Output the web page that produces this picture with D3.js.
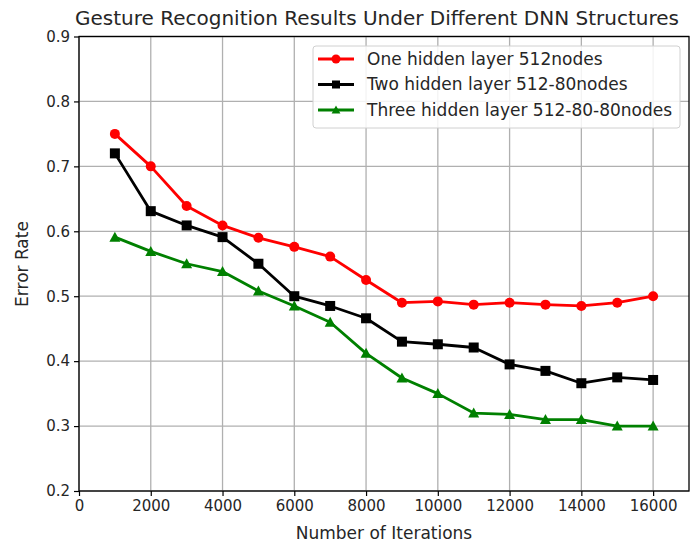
<!DOCTYPE html>
<html>
<head>
<meta charset="utf-8">
<script src="https://cdn.jsdelivr.net/npm/d3@7"></script>
<style>
  html, body { margin: 0; padding: 0; background: #fff; }
  svg { display: block; font-family: "DejaVu Sans", sans-serif; }
</style>
</head>
<body>
<svg id="chart" width="697" height="544"></svg>
<script>
// Iteration counts on the x axis
const iterations = [1000, 2000, 3000, 4000, 5000, 6000, 7000, 8000, 9000, 10000, 11000, 12000, 13000, 14000, 15000, 16000];

// Error rate per network structure
const oneLayer = [0.750, 0.700, 0.639, 0.609, 0.590, 0.576, 0.561, 0.525, 0.490, 0.492, 0.487, 0.490, 0.487, 0.485, 0.490, 0.500];
const twoLayer = [0.720, 0.631, 0.609, 0.591, 0.550, 0.500, 0.485, 0.466, 0.430, 0.426, 0.421, 0.395, 0.385, 0.366, 0.375, 0.371];
const threeLayer = [0.591, 0.569, 0.550, 0.538, 0.508, 0.485, 0.460, 0.412, 0.374, 0.350, 0.320, 0.318, 0.310, 0.310, 0.300, 0.300];

const seriesNames = ["One hidden layer 512nodes", "Two hidden layer 512-80nodes", "Three hidden layer 512-80-80nodes"];
const seriesColors = ["#ff0000", "#000000", "#008000"];
const seriesMarkers = ["circle", "square", "triangle"];

const xTicks = [0, 2000, 4000, 6000, 8000, 10000, 12000, 14000, 16000];
const yTicks = [0.2, 0.3, 0.4, 0.5, 0.6, 0.7, 0.8, 0.9];

const chartTitle = "Gesture Recognition Results Under Different DNN Structures";
const xLabel = "Number of Iterations";
const yLabel = "Error Rate";

const series = [oneLayer, twoLayer, threeLayer].map((vals, i) => ({
  name: seriesNames[i],
  color: seriesColors[i],
  marker: seriesMarkers[i],
  points: iterations.map((it, j) => ({ x: it, y: vals[j] }))
}));

const svg = d3.select("#chart");
const margin = { left: 79, right: 8, top: 36.5, bottom: 53 };
const W = 697, H = 544;

const x = d3.scaleLinear().domain([0, 17000]).range([margin.left, W - margin.right]);
const y = d3.scaleLinear().domain([0.2, 0.9]).range([H - margin.bottom, margin.top]);

// grid
const grid = svg.append("g");
grid.selectAll("line.vx").data(xTicks).join("line")
  .attr("x1", d => x(d)).attr("x2", d => x(d))
  .attr("y1", y(0.9)).attr("y2", y(0.2))
  .attr("stroke", "#b0b0b0").attr("stroke-width", 1.3);
grid.selectAll("line.hy").data(yTicks).join("line")
  .attr("y1", d => y(d)).attr("y2", d => y(d))
  .attr("x1", x(0)).attr("x2", x(17000))
  .attr("stroke", "#b0b0b0").attr("stroke-width", 1.3);

// axes
const xAxis = d3.axisBottom(x).tickValues(xTicks).tickFormat(d3.format("d")).tickSizeInner(5).tickSizeOuter(0).tickPadding(4);
const yAxis = d3.axisLeft(y).tickValues(yTicks).tickFormat(d3.format(".1f")).tickSizeInner(5).tickSizeOuter(0).tickPadding(4);

const gx = svg.append("g").attr("transform", `translate(0,${y(0.2)})`).call(xAxis);
const gy = svg.append("g").attr("transform", `translate(${x(0)},0)`).call(yAxis);
[gx, gy].forEach(g => {
  g.select(".domain").remove();
  g.selectAll(".tick line").attr("stroke", "#000").attr("stroke-width", 1.2);
  g.selectAll(".tick text").attr("fill", "#262626").attr("font-size", 15)
    .attr("font-family", "DejaVu Sans, sans-serif");
});

// frame
svg.append("rect")
  .attr("x", x(0)).attr("y", y(0.9))
  .attr("width", x(17000) - x(0)).attr("height", y(0.2) - y(0.9))
  .attr("fill", "none").attr("stroke", "#000").attr("stroke-width", 1.3);

// marker drawing
function drawMarker(sel, type, size) {
  if (type === "circle") {
    sel.append("circle").attr("r", size / 2);
  } else if (type === "square") {
    sel.append("rect").attr("x", -size / 2).attr("y", -size / 2).attr("width", size).attr("height", size);
  } else {
    const h = size;
    sel.append("path").attr("d", `M0,${-h * 0.55}L${h * 0.55},${h * 0.45}L${-h * 0.55},${h * 0.45}Z`);
  }
}

const line = d3.line().x(d => x(d.x)).y(d => y(d.y));

series.forEach(s => {
  svg.append("path").datum(s.points)
    .attr("d", line).attr("fill", "none")
    .attr("stroke", s.color).attr("stroke-width", 2.8).attr("stroke-linejoin", "round");
  const mg = svg.append("g").attr("fill", s.color);
  s.points.forEach(p => {
    const g = mg.append("g").attr("transform", `translate(${x(p.x)},${y(p.y)})`);
    drawMarker(g, s.marker, 10);
  });
});

// legend
const lg = svg.append("g");
lg.append("rect").attr("x", 313).attr("y", 46).attr("width", 367).attr("height", 82)
  .attr("rx", 3).attr("fill", "#fff").attr("fill-opacity", 0.85)
  .attr("stroke", "#d0d0d0").attr("stroke-width", 1);
series.forEach((s, i) => {
  const cy = 59 + i * 25.5;
  lg.append("line").attr("x1", 318).attr("x2", 354).attr("y1", cy).attr("y2", cy)
    .attr("stroke", s.color).attr("stroke-width", 2.8);
  const g = lg.append("g").attr("fill", s.color).attr("transform", `translate(336,${cy})`);
  drawMarker(g, s.marker, s.marker === "circle" ? 9 : 8);
  lg.append("text").attr("x", 367).attr("y", cy).attr("dy", "0.35em")
    .attr("font-size", 17).attr("fill", "#262626").text(s.name);
});

// title and labels
svg.append("text").attr("x", 377).attr("y", 25)
  .attr("text-anchor", "middle").attr("font-size", 20).attr("fill", "#262626").text(chartTitle);
svg.append("text").attr("x", 384).attr("y", 539)
  .attr("text-anchor", "middle").attr("font-size", 17).attr("fill", "#262626").text(xLabel);
svg.append("text").attr("transform", `translate(28,${264}) rotate(-90)`)
  .attr("text-anchor", "middle").attr("font-size", 17).attr("fill", "#262626").text(yLabel);
</script>
</body>
</html>
